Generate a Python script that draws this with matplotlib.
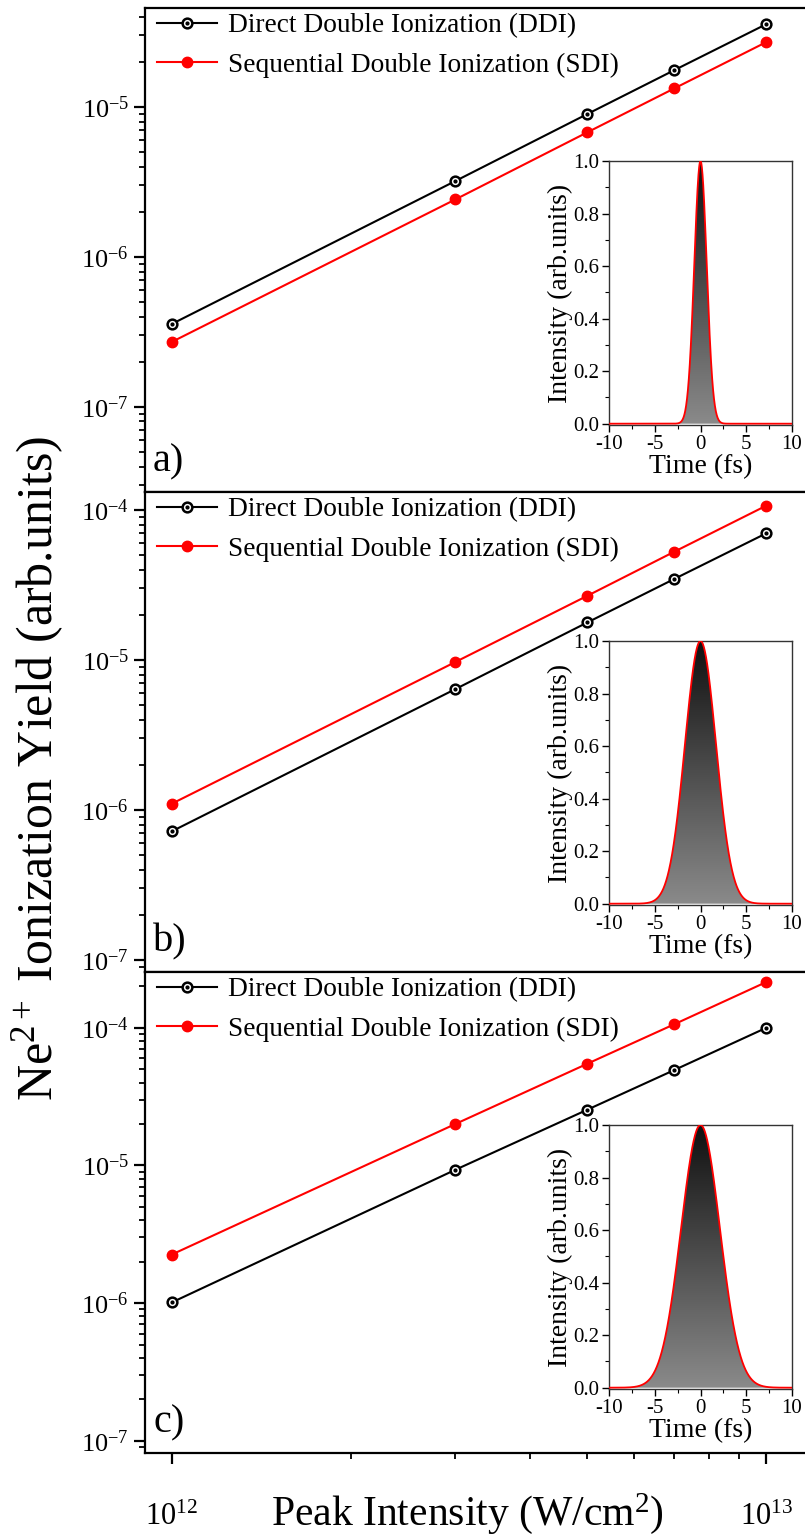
import numpy as np
import matplotlib
matplotlib.use("Agg")
import matplotlib.pyplot as plt
from matplotlib.colors import LinearSegmentedColormap
from matplotlib.legend_handler import HandlerTuple
from matplotlib.ticker import LogLocator, NullFormatter, MultipleLocator

plt.rcParams['font.family'] = ['Liberation Serif', 'DejaVu Serif']
plt.rcParams['mathtext.fontset'] = 'custom'
plt.rcParams['mathtext.rm'] = 'Liberation Serif'
plt.rcParams['mathtext.it'] = 'Liberation Serif:italic'
plt.rcParams['mathtext.bf'] = 'Liberation Serif:bold'
plt.rcParams['axes.unicode_minus'] = False

# ---------------- data ----------------
peak_intensity = [1e12, 3e12, 5e12, 7e12, 1e13]   # W/cm^2

ddi_a = [3.57e-7, 3.21e-6, 8.98e-6, 1.76e-5, 3.57e-5]
sdi_a = [2.71e-7, 2.42e-6, 6.78e-6, 1.33e-5, 2.71e-5]

ddi_b = [7.2e-7, 6.4e-6, 1.78e-5, 3.47e-5, 7.0e-5]
sdi_b = [1.1e-6, 9.7e-6, 2.68e-5, 5.27e-5, 1.07e-4]

ddi_c = [1.01e-6, 9.3e-6, 2.54e-5, 4.93e-5, 1.0e-4]
sdi_c = [2.25e-6, 2.0e-5, 5.48e-5, 1.06e-4, 2.15e-4]

pulse_fwhm_fs = [1.6, 4.0, 5.0]       # inset pulse durations (intensity FWHM)
panel_labels = ['a)', 'b)', 'c)']
legend_labels = ['Direct Double Ionization (DDI)', 'Sequential Double Ionization (SDI)']

# ---------------- layout ----------------
W, H = 805, 1535
fig = plt.figure(figsize=(W / 100, H / 100), dpi=100)

def fx(px):
    return px / W

def fy(px):
    return 1 - px / H

left, right = 145, 807
panels_px = [(8, 492), (492, 972), (972, 1453)]
ylims = [(2.71e-8, 4.57e-5), (8.32e-8, 1.318e-4), (8.15e-8, 2.54e-4)]
inset_tops = [161, 641, 1125]
inset_l, inset_r, inset_h = 609, 792, 264

series = [(ddi_a, sdi_a), (ddi_b, sdi_b), (ddi_c, sdi_c)]

grad_cmap = LinearSegmentedColormap.from_list('g', ['#8a8a8a', '#101010'])

axes = []
for i, ((top, bot), ylim, (ddi, sdi)) in enumerate(zip(panels_px, ylims, series)):
    ax = fig.add_axes([fx(left), fy(bot), fx(right) - fx(left), (bot - top) / H])
    axes.append(ax)
    ax.set_xscale('log')
    ax.set_yscale('log')
    ax.set_xlim(9.02e11, 1.17e13)
    ax.set_ylim(*ylim)
    for s in ax.spines.values():
        s.set_linewidth(1.6)
    ax.xaxis.set_major_locator(LogLocator(base=10, numticks=10))
    ax.xaxis.set_minor_locator(LogLocator(base=10, subs=np.arange(2, 10), numticks=20))
    ax.yaxis.set_major_locator(LogLocator(base=10, numticks=10))
    ax.yaxis.set_minor_locator(LogLocator(base=10, subs=np.arange(2, 10), numticks=20))
    ax.xaxis.set_minor_formatter(NullFormatter())
    ax.yaxis.set_minor_formatter(NullFormatter())
    ax.tick_params(which='major', direction='out', length=8, width=1.6, labelsize=19)
    ax.tick_params(which='minor', direction='out', length=4, width=1.3)
    ax.tick_params(axis='x', labelsize=22, pad=28)
    if i < 2:
        ax.tick_params(axis='x', labelbottom=False)

    l_sdi, = ax.plot(peak_intensity, sdi, '-', color='#ff0000', lw=1.5,
                     marker='o', ms=7.5, mfc='#ff0000', mec='#ff0000', zorder=3)
    l_ddi, = ax.plot(peak_intensity, ddi, '-', color='black', lw=1.5,
                     marker='o', ms=7, mfc='white', mec='black', mew=1.8, zorder=4)
    l_dot, = ax.plot(peak_intensity, ddi, ls='none', marker='o', ms=2,
                     mfc='black', mec='black', zorder=5)

    leg = ax.legend([(l_ddi, l_dot), l_sdi], legend_labels,
                    handler_map={tuple: HandlerTuple(ndivide=1)},
                    loc='upper left', bbox_to_anchor=(12 / (right - left), 1 - 5 / (bot - top)),
                    frameon=False, fontsize=19.7, handlelength=2.2, handletextpad=0.4,
                    labelspacing=0.52, borderpad=0, borderaxespad=0, numpoints=1)

    ax.text(8 / (right - left), 30 / (bot - top), panel_labels[i], transform=ax.transAxes,
            fontsize=29, ha='left', va='center')

    # inset
    itop = inset_tops[i]
    iax = fig.add_axes([fx(inset_l), fy(itop + inset_h), fx(inset_r) - fx(inset_l), inset_h / H])
    t = np.linspace(-10, 10, 801)
    sigma = pulse_fwhm_fs[i] / (2 * np.sqrt(2 * np.log(2)))
    I = np.exp(-t ** 2 / (2 * sigma ** 2))
    poly = iax.fill_between(t, 0, I, color='none', lw=0)
    grad = np.linspace(0, 1, 256).reshape(-1, 1)
    im = iax.imshow(grad, extent=(-10, 10, 0, 1), origin='lower', aspect='auto',
                    cmap=grad_cmap, vmin=0, vmax=1, zorder=1)
    im.set_clip_path(poly.get_paths()[0], transform=iax.transData)
    iax.plot(t, I, color='#ff0000', lw=1.3, zorder=3)
    iax.set_xlim(-10, 10)
    iax.set_ylim(-0.005, 1.0)
    iax.set_xticks([-10, -5, 0, 5, 10])
    iax.set_xticklabels(['-10', '-5', '0', '5', '10'])
    iax.xaxis.set_minor_locator(MultipleLocator(2.5))
    iax.set_yticks([0.0, 0.2, 0.4, 0.6, 0.8, 1.0])
    iax.set_yticklabels(['0.0', '0.2', '0.4', '0.6', '0.8', '1.0'])
    iax.yaxis.set_minor_locator(MultipleLocator(0.1))
    iax.tick_params(which='major', direction='out', length=5, width=1.0, labelsize=15, pad=2)
    iax.tick_params(which='minor', direction='out', length=3, width=0.8)
    for s in iax.spines.values():
        s.set_linewidth(1.0)
        s.set_color('#333333')
    iax.set_xlabel('Time (fs)', fontsize=20, labelpad=0)
    iax.set_ylabel('Intensity (arb.units)', fontsize=20, labelpad=0)

fig.text(fx(467), fy(1514), 'Peak Intensity (W/cm$^{2}$)', fontsize=30,
         ha='center', va='center')
fig.text(fx(38), fy(768), 'Ne$^{2+}$ Ionization Yield (arb.units)', rotation=90,
         fontsize=36, ha='center', va='center')

fig.savefig('out.png', dpi=100)
